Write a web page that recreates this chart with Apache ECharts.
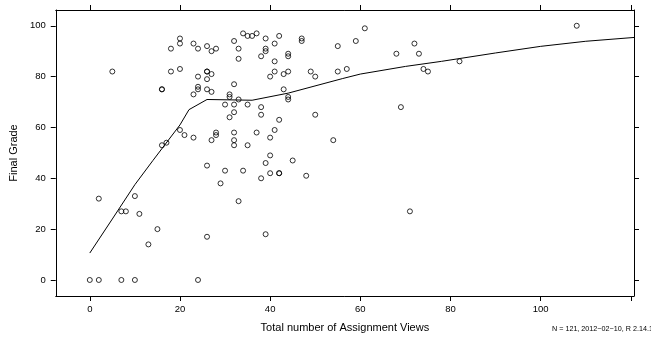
<!DOCTYPE html>
<html>
<head>
<meta charset="utf-8">
<script src="https://cdn.jsdelivr.net/npm/echarts@6/dist/echarts.min.js"></script>
<style>
  html, body { margin: 0; padding: 0; background: #fff; }
  #chart { width: 651px; height: 343px; }
</style>
</head>
<body>
<div id="chart"></div>
<script>
// assignment views vs final grade
const views = [0, 2, 7, 10, 24, 13, 26, 39, 15, 11, 7, 8, 71, 33, 2, 10, 29, 38, 48, 40,
  42, 42, 30, 34, 26, 39, 45, 40, 16, 32, 35, 17, 27, 32, 54, 23, 40, 21, 28, 28,
  32, 37, 20, 41, 42, 31, 38, 50, 32, 38, 69, 30, 32, 35, 33, 44, 31, 44, 23, 31,
  27, 16, 16, 24, 26, 43, 24, 32, 26, 24, 40, 50, 27, 43, 5, 18, 26, 26, 41, 44,
  49, 55, 75, 20, 57, 74, 41, 82, 33, 38, 44, 44, 68, 73, 27, 39, 18, 24, 28, 33,
  39, 26, 55, 20, 23, 41, 72, 32, 47, 59, 20, 39, 47, 35, 36, 42, 34, 37, 61, 108]
const grades = [0, 0, 0, 0, 0, 14, 17, 18, 20, 26, 27, 27, 27, 31, 32, 33, 38, 40, 41, 42,
  42, 42, 43, 43, 45, 46, 47, 49, 53, 53, 53, 54, 55, 55, 55, 56, 56, 57, 57, 58,
  58, 58, 59, 59, 63, 64, 65, 65, 66, 68, 68, 69, 69, 69, 71, 71, 72, 72, 73, 73,
  74, 75, 75, 75, 75, 75, 76, 77, 79, 80, 80, 80, 81, 81, 82, 82, 82, 82, 82, 82,
  82, 82, 82, 83, 83, 83, 86, 86, 87, 88, 88, 89, 89, 89, 90, 90, 91, 91, 91, 91,
  91, 92, 92, 93, 93, 93, 93, 94, 94, 94, 95, 95, 95, 96, 96, 96, 97, 97, 99, 100]

// smoother line
const smoothX = [0, 5, 10, 14, 20, 22, 26, 36, 44, 56, 60, 70, 78, 90, 100, 110, 120.7]
const smoothY = [10.6, 24, 37.5, 47, 61, 67, 71, 70.7, 73.5, 79.2, 81, 84, 86, 89.3, 91.9, 93.9, 95.4]

const xTicks = [0, 20, 40, 60, 80, 100, 120]
const xLabels = [0, 20, 40, 60, 80, 100]
const yTicks = [0, 20, 40, 60, 80, 100]

const pts = views.map((v, i) => [v, grades[i]])
const line = smoothX.map((v, i) => [v, smoothY[i]])

const font = 'Liberation Sans, Arial, Helvetica, sans-serif'
const axisBase = {
  type: 'value',
  axisLine: { show: true, onZero: false, lineStyle: { color: '#000', width: 1 } },
  splitLine: { show: false }
}

let chart = echarts.init(document.getElementById('chart'), null, { renderer: 'canvas' })
let option = {
  animation: false,
  backgroundColor: '#fff',
  grid: { left: 53, right: 17, top: 10, bottom: 47 },
  xAxis: [
    Object.assign({}, axisBase, {
      position: 'bottom', min: -7.55, max: 120.7,
      name: 'Total number of Assignment Views', nameLocation: 'middle', nameGap: 26,
      nameTextStyle: { color: '#000', fontSize: 11, fontFamily: font },
      axisTick: { show: true, length: 5, customValues: xTicks, lineStyle: { color: '#000' } },
      axisLabel: { show: true, customValues: xLabels, margin: 8, color: '#000', fontSize: 9.5, fontFamily: font }
    }),
    Object.assign({}, axisBase, {
      position: 'top', min: -7.55, max: 120.7,
      axisTick: { show: true, length: 5, customValues: xTicks, lineStyle: { color: '#000' } },
      axisLabel: { show: false }
    })
  ],
  yAxis: [
    Object.assign({}, axisBase, {
      position: 'left', min: -6.3, max: 106.2,
      name: 'Final Grade', nameLocation: 'middle', nameGap: 35,
      nameTextStyle: { color: '#000', fontSize: 11, fontFamily: font },
      axisTick: { show: true, length: 5, customValues: yTicks, lineStyle: { color: '#000' } },
      axisLabel: { show: true, customValues: yTicks, margin: 10, color: '#000', fontSize: 9.5, fontFamily: font }
    }),
    Object.assign({}, axisBase, {
      position: 'right', min: -6.3, max: 106.2,
      axisTick: { show: true, length: 5, customValues: yTicks, lineStyle: { color: '#000' } },
      axisLabel: { show: false }
    })
  ],
  series: [
    {
      type: 'scatter',
      data: pts,
      symbol: 'circle',
      symbolSize: 5,
      itemStyle: { color: 'rgba(0,0,0,0)', borderColor: '#000', borderWidth: 1 },
      emphasis: { disabled: true }
    },
    {
      type: 'line',
      data: line,
      showSymbol: false,
      symbol: 'none',
      lineStyle: { color: '#000', width: 1 },
      emphasis: { disabled: true }
    }
  ],
  graphic: [
    {
      type: 'text',
      left: 552, top: 326,
      style: { text: 'N = 121, 2012\u221202\u221210, R 2.14.1', fill: '#000', fontSize: 7.2, fontFamily: font }
    }
  ]
}
chart.setOption(option)
</script>
</body>
</html>
